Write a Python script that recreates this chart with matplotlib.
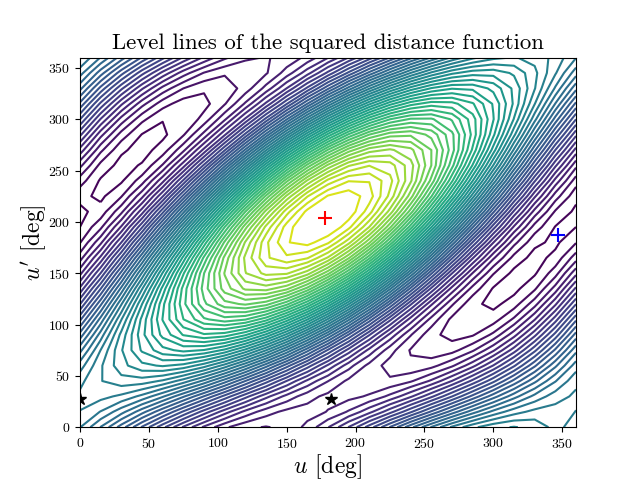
import numpy as np
import matplotlib
matplotlib.use('Agg')
import matplotlib.pyplot as plt

plt.rcParams['font.family'] = 'cmr10'
plt.rcParams['mathtext.fontset'] = 'cm'
plt.rcParams['axes.formatter.use_mathtext'] = True

u_deg = list(range(0, 361, 15))
up_deg = list(range(0, 361, 15))

# level values estimated from the reference by counting its lines (arbitrary scale),
# one row per u', smoothed through a hand fitted fourier model of the picture
dist2 = [
    [376, 333, 283, 229, 176, 126, 84, 51, 31, 25, 32, 53, 87, 130, 180, 233, 287, 336, 379, 411, 431, 438, 430, 409, 376],
    [395, 374, 342, 301, 256, 208, 161, 118, 82, 56, 41, 38, 48, 70, 102, 142, 187, 235, 282, 325, 361, 387, 402, 405, 395],
    [400, 402, 391, 369, 337, 296, 251, 204, 157, 115, 81, 55, 41, 40, 50, 73, 105, 145, 190, 238, 284, 326, 361, 386, 400],
    [390, 415, 428, 427, 413, 386, 349, 303, 252, 200, 149, 104, 68, 42, 29, 30, 44, 71, 109, 155, 205, 258, 308, 353, 390],
    [365, 413, 450, 472, 480, 471, 446, 408, 359, 302, 241, 181, 125, 76, 40, 17, 10, 19, 43, 81, 130, 187, 248, 309, 365],
    [328, 396, 455, 501, 532, 545, 538, 514, 472, 417, 352, 280, 208, 141, 81, 35, 4, -8, -2, 23, 64, 119, 185, 256, 328],
    [281, 364, 443, 512, 566, 602, 618, 611, 583, 535, 472, 396, 314, 230, 151, 82, 28, -8, -23, -17, 11, 59, 123, 198, 281],
    [227, 321, 415, 504, 581, 641, 679, 694, 684, 650, 592, 520, 433, 339, 244, 155, 79, 19, -20, -35, -25, 10, 66, 140, 227],
    [169, 268, 373, 477, 574, 656, 719, 757, 768, 752, 709, 643, 558, 459, 354, 250, 153, 71, 9, -30, -41, -25, 18, 84, 169],
    [113, 210, 319, 434, 546, 649, 733, 795, 830, 835, 811, 758, 680, 584, 474, 359, 247, 145, 60, -2, -37, -42, -18, 35, 113],
    [61, 150, 258, 377, 500, 618, 723, 807, 866, 894, 891, 856, 792, 703, 595, 476, 353, 235, 130, 46, -13, -41, -38, -3, 61],
    [17, 93, 193, 311, 438, 566, 687, 791, 872, 925, 945, 931, 885, 809, 709, 591, 464, 336, 215, 111, 30, -22, -43, -29, 17],
    [-16, 42, 129, 239, 365, 497, 628, 748, 849, 924, 968, 978, 953, 895, 809, 699, 573, 440, 309, 189, 89, 13, -30, -40, -16],
    [-35, 1, 70, 167, 285, 416, 551, 682, 798, 893, 959, 993, 992, 956, 887, 790, 672, 541, 406, 275, 159, 64, -3, -36, -35],
    [-40, -27, 21, 99, 204, 327, 461, 596, 723, 833, 920, 976, 998, 985, 938, 859, 755, 631, 498, 363, 236, 125, 39, -17, -40],
    [-29, -40, -16, 41, 127, 237, 363, 497, 628, 749, 851, 927, 972, 983, 959, 902, 815, 705, 579, 446, 314, 194, 92, 16, -29],
    [-5, -38, -38, -4, 61, 153, 265, 391, 521, 646, 759, 850, 915, 948, 948, 915, 850, 758, 645, 519, 390, 264, 152, 60, -5],
    [32, -21, -43, -33, 8, 79, 174, 286, 408, 532, 649, 751, 831, 885, 907, 897, 855, 785, 690, 578, 456, 332, 215, 113, 32],
    [80, 11, -31, -44, -26, 21, 94, 188, 297, 413, 529, 635, 726, 795, 837, 850, 832, 785, 712, 617, 509, 392, 277, 170, 80],
    [134, 54, -3, -36, -40, -17, 33, 105, 196, 299, 406, 512, 607, 686, 744, 776, 781, 758, 708, 635, 544, 442, 334, 229, 134],
    [191, 107, 39, -9, -34, -33, -7, 43, 112, 197, 291, 388, 482, 566, 634, 682, 706, 706, 680, 630, 561, 476, 382, 285, 191],
    [247, 165, 92, 34, -6, -25, -22, 4, 50, 113, 189, 273, 359, 442, 514, 573, 613, 632, 628, 603, 557, 494, 417, 333, 247],
    [299, 225, 154, 91, 40, 6, -11, -8, 15, 54, 109, 175, 248, 322, 393, 456, 507, 541, 558, 555, 533, 493, 438, 372, 299],
    [343, 282, 219, 157, 102, 57, 25, 9, 8, 24, 56, 100, 155, 216, 279, 340, 396, 441, 473, 489, 490, 474, 442, 398, 343],
    [376, 333, 283, 229, 176, 126, 84, 51, 31, 25, 32, 53, 87, 130, 180, 233, 287, 336, 379, 411, 431, 438, 430, 409, 376],
]

max_u, max_up = [178], [204]
min_u, min_up = [347], [187]
star_u, star_up = [182, 0], [27, 27]

level_values = np.arange(-35, 990, 20.5)
ticks = [0, 50, 100, 150, 200, 250, 300, 350]

fig, ax = plt.subplots()
ax.contour(u_deg, up_deg, dist2, levels=level_values, cmap='viridis', vmin=-50, vmax=1030)
ax.plot(max_u, max_up, '+', color='red', ms=10, mew=1.5)
ax.plot(min_u, min_up, '+', color='blue', ms=10, mew=1.5)
ax.plot(star_u, star_up, '*', color='black', ms=9)
ax.set_title('Level lines of the squared distance function', fontsize=16.4)
ax.set_xlabel(r'$u$ [deg]', fontsize=17, labelpad=1)
ax.set_ylabel(r"$u'$ [deg]", fontsize=17, labelpad=0)
ax.set_xticks(ticks)
ax.set_yticks(ticks)
fig.savefig('out.png', dpi=100)
